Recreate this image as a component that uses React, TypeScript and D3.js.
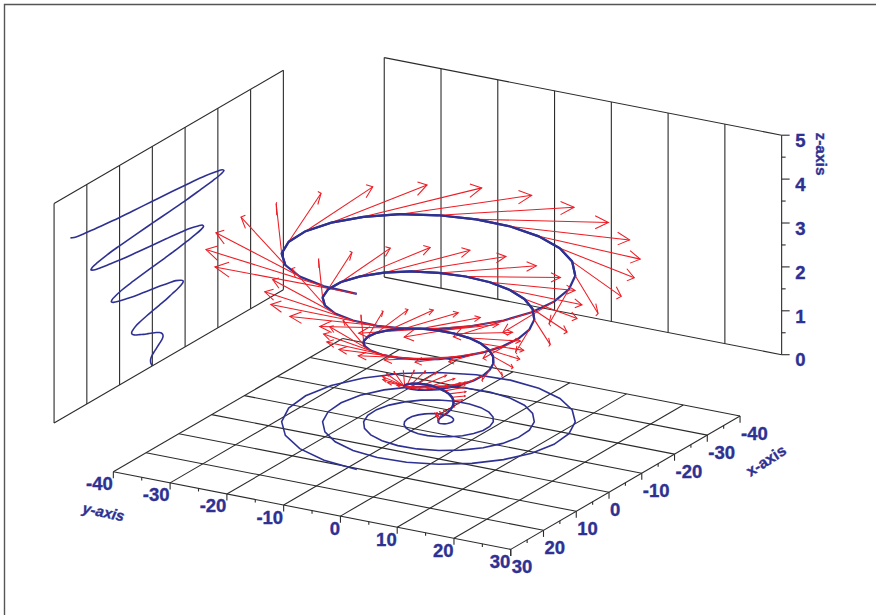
import * as d3 from "d3";
import React from "react";

const WIDTH = 876;
const HEIGHT = 615;
const BLUE = "#2E3192";
const RED = "#ED1C24";
const INK = "#2b2b2b";
const FONT = "'Liberation Sans', Arial, sans-serif";

const xValues = [0,.25,.45,.55,.52,.34,0,-.47,-1.04,-1.65,-2.25,-2.76,-3.13,-3.27,-3.16,-2.76,-2.08,-1.15,0,1.28,2.6,3.87,4.96,5.79,6.25,6.29,5.86,4.97,3.65,1.95,0,-2.09,-4.17,-6.07,-7.66,-8.8,-9.38,-9.31,-8.57,-7.18,-5.21,-2.76,0,2.9,5.73,8.29,10.37,11.82,12.5,12.32,11.28,9.39,6.77,3.57,0,-3.71,-7.29,-10.49,-13.08,-14.84,-15.63,-15.35,-13.99,-11.6,-8.34,-4.38,0,4.52,8.86,12.71,15.79,17.86,18.75,18.36,16.69,13.81,9.9,5.19,0,-5.32,-10.42,-14.91,-18.49,-20.87,-21.88,-21.39,-19.4,-16.02,-11.46,-6,0,6.13,11.98,17.13,21.2,23.9,25];
const yValues = [0,.07,.26,.55,.9,1.26,1.56,1.76,1.8,1.65,1.3,.74,0,-.88,-1.83,-2.76,-3.61,-4.28,-4.69,-4.78,-4.51,-3.87,-2.87,-1.55,0,1.68,3.39,4.97,6.31,7.29,7.81,7.79,7.21,6.07,4.43,2.36,0,-2.49,-4.95,-7.18,-9.02,-10.32,-10.94,-10.82,-9.92,-8.29,-5.99,-3.17,0,3.3,6.51,9.39,11.73,13.33,14.06,13.83,12.63,10.49,7.55,3.98,0,-4.11,-8.08,-11.6,-14.44,-16.35,-17.19,-16.86,-15.34,-12.71,-9.12,-4.79,0,4.92,9.64,13.81,17.14,19.37,20.31,19.87,18.04,14.91,10.68,5.59,0,-5.73,-11.2,-16.02,-19.85,-22.39,-23.44,-22.89,-20.75,-17.13,-12.24,-6.4,0];
const zValues = [0,.04,.08,.13,.17,.21,.25,.29,.33,.38,.42,.46,.5,.54,.58,.63,.67,.71,.75,.79,.83,.88,.92,.96,1,1.04,1.08,1.13,1.17,1.21,1.25,1.29,1.33,1.38,1.42,1.46,1.5,1.54,1.58,1.63,1.67,1.71,1.75,1.79,1.83,1.88,1.92,1.96,2,2.04,2.08,2.13,2.17,2.21,2.25,2.29,2.33,2.38,2.42,2.46,2.5,2.54,2.58,2.63,2.67,2.71,2.75,2.79,2.83,2.88,2.92,2.96,3,3.04,3.08,3.13,3.17,3.21,3.25,3.29,3.33,3.38,3.42,3.46,3.5,3.54,3.58,3.63,3.67,3.71,3.75,3.79,3.83,3.88,3.92,3.96,4];
const arrowU = [0,.08,.27,.53,.84,1.14,1.38,1.51,1.5,1.31,.95,.41,-.28,-1.07,-1.9,-2.69,-3.38,-3.88,-4.14,-4.11,-3.75,-3.07,-2.09,-.85,.56,2.05,3.52,4.84,5.9,6.61,6.9,6.69,5.99,4.81,3.22,1.29,-.84,-3.04,-5.14,-6.99,-8.43,-9.36,-9.66,-9.29,-8.24,-6.57,-4.36,-1.74,1.13,4.02,6.76,9.14,10.97,12.09,12.41,11.88,10.5,8.32,5.49,2.18,-1.41,-5.01,-8.39,-11.29,-13.5,-14.83,-15.18,-14.48,-12.75,-10.08,-6.63,-2.62,1.69,6,10.01,13.44,16.03,17.57,17.93,17.07,14.99,11.82,7.77,3.06,-1.97,-6.98,-11.64,-15.59,-18.56,-20.31,-20.7,-19.66,-17.24,-13.58,-8.9,-3.5,2.25];
const arrowV = [0,-.23,-.41,-.49,-.43,-.24,.1,.56,1.26,1.71,2.14,2.59,2.84,2.94,2.8,2.44,1.84,.99,-.02,-1.17,-2.37,-3.54,-4.66,-5.53,-5.93,-5.85,-5.34,-4.39,-3.05,-1.37,.51,2.49,5.07,6.3,7.28,8.28,8.51,8.37,7.57,6.34,4.59,2.38,-.05,-2.67,-5.22,-7.58,-9.74,-11.29,-11.85,-11.46,-10.27,-8.29,-5.66,-2.52,.91,4.42,8.87,10.88,12.44,13.96,14.19,13.81,12.37,10.24,7.35,3.77,-.09,-4.16,-8.07,-11.62,-14.83,-17.06,-17.78,-17.09,-15.2,-12.19,-8.27,-3.66,1.32,6.34,12.67,15.46,17.58,19.63,19.86,19.25,17.14,14.15,10.1,5.16,-.11,-5.64,-10.91,-15.65,-19.91,-22.82,-23.7];
const arrowW = 0.11;

const gridTicks = [-40,-30,-20,-10,0,10,20,30];
const minorTicks = [-35,-25,-15,-5,5,15,25];
const zTicks = [0,1,2,3,4,5];
const zMinorTicks = [.5,1.5,2.5,3.5,4.5];

const FLOOR_Z = -0.847;
const BACK_X = -52.7;
const SIDE_Y = -50.44;

const zPx = d3.scaleLinear().domain([0, 5]).range([0, -219.5]);
const xToSx = d3.scaleLinear().domain([0, 70]).range([0, -229.3]);
const xToSy = d3.scaleLinear().domain([0, 70]).range([0, 133.3]);
const yToSx = d3.scaleLinear().domain([0, 70]).range([0, 397.4]);
const yToSy = d3.scaleLinear().domain([0, 70]).range([0, 77.6]);

type P = [number, number];
const project = (x: number, y: number, z: number): P => [
  438.7 + xToSx(x) + yToSx(y),
  421.8 + xToSy(x) + yToSy(y) + zPx(z),
];
const line = d3.line<P>().x((d) => d[0]).y((d) => d[1]);
const smooth = d3.line<P>().x((d) => d[0]).y((d) => d[1]).curve(d3.curveCatmullRom);
const path = (pts: P[]) => line(pts) ?? "";

function Seg({ pts, w = 1.1, color = INK }: { pts: P[]; w?: number; color?: string }) {
  return <path d={path(pts)} fill="none" stroke={color} strokeWidth={w} />;
}

export default function App() {
  const idx = xValues.map((_, i) => i);
  const helix = idx.map((i) => project(xValues[i], yValues[i], zValues[i]));
  const ground = idx.map((i) => project(xValues[i], yValues[i], 0));
  const wall = idx.map((i) => project(xValues[i], SIDE_Y, zValues[i]));
  // the far half of each turn sits in front of the arrows' tails
  const farSegments = idx.slice(1).filter((i) => i % 24 >= 9 && i % 24 <= 21);

  const lbl = { fontFamily: FONT, fontWeight: 700, fill: BLUE, stroke: BLUE, strokeWidth: 0.35 } as const;

  return (
    <svg width={WIDTH} height={HEIGHT} style={{ position: "absolute", left: 0, top: 0, display: "block" }}>
      <rect width={WIDTH} height={HEIGHT} fill="#fff" />
      <path d={`M4.5,${HEIGHT}V4.5H${WIDTH}`} fill="none" stroke="#555" strokeWidth={1.4} />

      {/* floor grid */}
      {gridTicks.map((t) => (
        <g key={t}>
          <Seg pts={[project(t, -40, FLOOR_Z), project(t, 30, FLOOR_Z)]} />
          <Seg pts={[project(30, t, FLOOR_Z), project(-40, t, FLOOR_Z)]} />
          <Seg pts={[project(30, t, FLOOR_Z), project(30, t, FLOOR_Z - 0.15)]} />
          <Seg pts={[project(t, 30, FLOOR_Z), project(t, 30, FLOOR_Z - 0.15)]} />
        </g>
      ))}
      {minorTicks.map((t) => (
        <g key={t}>
          <Seg pts={[project(30, t, FLOOR_Z), project(30, t, FLOOR_Z - 0.07)]} />
          <Seg pts={[project(t, 30, FLOOR_Z), project(t, 30, FLOOR_Z - 0.07)]} />
        </g>
      ))}

      {/* side wall */}
      <Seg pts={[project(30, SIDE_Y, 5), project(-40, SIDE_Y, 5)]} />
      <Seg pts={[project(30, SIDE_Y, 0), project(-40, SIDE_Y, 0)]} />
      {gridTicks.map((t) => (
        <Seg key={t} pts={[project(t, SIDE_Y, 0), project(t, SIDE_Y, 5)]} />
      ))}

      {/* back wall */}
      <Seg pts={[project(BACK_X, -40, 5), project(BACK_X, 30, 5)]} />
      <Seg pts={[project(BACK_X, -40, 0), project(BACK_X, 30, 0)]} />
      {gridTicks.map((t) => (
        <Seg key={t} pts={[project(BACK_X, t, 0), project(BACK_X, t, 5)]} />
      ))}
      {zTicks.map((t) => {
        const p = project(BACK_X, 30, t);
        return <Seg key={t} pts={[p, [p[0] + 8, p[1]]]} />;
      })}
      {zMinorTicks.map((t) => {
        const p = project(BACK_X, 30, t);
        return <Seg key={t} pts={[p, [p[0] + 4, p[1]]]} />;
      })}

      {/* projections */}
      <path d={smooth(wall) ?? ""} fill="none" stroke={BLUE} strokeWidth={1.6} />
      <path d={path(ground)} fill="none" stroke={BLUE} strokeWidth={1.6} />

      {/* helix */}
      <path d={path(helix)} fill="none" stroke={BLUE} strokeWidth={2.2} />

      {/* arrows */}
      <g fill="none" stroke={RED} strokeWidth={1.05}>
        {idx.slice(1).map((i) => {
          const x = xValues[i], y = yValues[i], z = zValues[i];
          const u = arrowU[i], v = arrowV[i], w = arrowW;
          const tx = x + u, ty = y + v, tz = z + w;
          const len = Math.hypot(u, v);
          const bx = tx - 0.1 * u, by = ty - 0.1 * v, bz = tz - 0.1 * w;
          const h = 0.0072 * len;
          return (
            <g key={i}>
              <path d={path([project(x, y, z), project(tx, ty, tz)])} />
              <path d={path([project(bx, by, bz + h), project(tx, ty, tz), project(bx, by, bz - h)])} />
            </g>
          );
        })}
      </g>

      {/* far half of the helix, over the arrow tails */}
      {farSegments.map((i) => (
        <path key={i} d={path([helix[i - 1], helix[i]])} fill="none" stroke={BLUE} strokeWidth={2.2} />
      ))}

      {/* tick labels */}
      {gridTicks.map((t) => {
        const a = project(30, t, FLOOR_Z);
        const b = project(t, 30, FLOOR_Z);
        return (
          <g key={t} {...lbl} fontSize={18.5}>
            <text x={a[0] - 0.5} y={a[1] + 18.5} textAnchor="end">{t}</text>
            <text x={b[0] + 1} y={b[1] + 24}>{t}</text>
          </g>
        );
      })}
      {zTicks.map((t) => {
        const p = project(BACK_X, 30, t);
        return (
          <text key={t} {...lbl} fontSize={18.5} x={p[0] + 13.5} y={p[1] + 11.7}>{t}</text>
        );
      })}

      {/* axis titles */}
      <text {...lbl} fontSize={15} fontStyle="italic" textAnchor="middle" dominantBaseline="middle"
        transform="translate(103.3,513.3) rotate(12)">y-axis</text>
      <text {...lbl} fontSize={15.5} textAnchor="middle" dominantBaseline="middle"
        transform="translate(766.7,461.7) rotate(-33)">x-axis</text>
      <text {...lbl} fontSize={15.5} textAnchor="middle" dominantBaseline="middle"
        transform="translate(820,154) rotate(90)">z-axis</text>
    </svg>
  );
}
